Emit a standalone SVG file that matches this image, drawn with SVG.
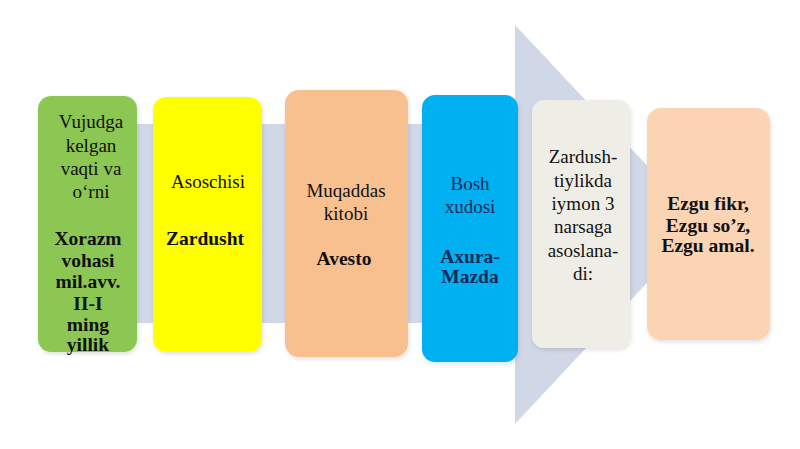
<svg xmlns="http://www.w3.org/2000/svg" width="800" height="449" viewBox="0 0 800 449">
<defs>
<style>
.reg{font-family:"Liberation Serif","Times New Roman",serif;font-size:19px;fill:#111;text-anchor:middle}
.b{font-family:"Liberation Serif","Times New Roman",serif;font-size:19.5px;font-weight:bold;fill:#111;text-anchor:middle}
.box{filter:url(#sh)}
</style>
<filter id="sh" x="-10%" y="-10%" width="125%" height="125%">
<feDropShadow dx="1" dy="2" stdDeviation="2" flood-color="#000" flood-opacity="0.12"/>
</filter>
</defs>
<rect width="800" height="449" fill="#ffffff"/>
<g id="connectors">
<path d="M120 124 H515 V25 L702 224 L515 424 V323 H120 Z" fill="#d0d7e6"/>
</g>
<g id="node1">
<rect class="box" x="38" y="96" width="99" height="256" rx="13" fill="#8cc653"/>
<text class="reg" x="91" y="128">Vujudga</text>
<text class="reg" x="91" y="152">kelgan</text>
<text class="reg" x="91" y="175">vaqti va</text>
<text class="reg" x="91" y="198">o‘rni</text>
<text class="b" x="88" y="245">Xorazm</text>
<text class="b" x="88" y="267">vohasi</text>
<text class="b" x="88" y="288">mil.avv.</text>
<text class="b" x="88" y="310">II-I</text>
<text class="b" x="88" y="331">ming</text>
<text class="b" x="88" y="351">yillik</text>
</g>
<g id="node2">
<rect class="box" x="153" y="97" width="109" height="255" rx="13" fill="#ffff00"/>
<text class="reg" x="208" y="188">Asoschisi</text>
<text class="b" x="205" y="245">Zardusht</text>
</g>
<g id="node3">
<rect class="box" x="285" y="90" width="123" height="267" rx="14" fill="#f9c08f"/>
<text class="reg" x="346" y="197">Muqaddas</text>
<text class="reg" x="346" y="220">kitobi</text>
<text class="b" x="344" y="265">Avesto</text>
</g>
<g id="node4">
<rect class="box" x="422" y="95" width="96" height="267" rx="13" fill="#00b0f0"/>
<text class="reg" x="470" y="190" style="fill:#142a5c">Bosh</text>
<text class="reg" x="470" y="213" style="fill:#142a5c">xudosi</text>
<text class="b" x="470" y="263" style="fill:#142a5c">Axura-</text>
<text class="b" x="470" y="283" style="fill:#142a5c">Mazda</text>
</g>
<g id="node5">
<rect class="box" x="532" y="100" width="98" height="248" rx="12" fill="#efeee6"/>
<text class="reg" x="583" y="163">Zardush-</text>
<text class="reg" x="583" y="187">tiylikda</text>
<text class="reg" x="583" y="210">iymon 3</text>
<text class="reg" x="583" y="233">narsaga</text>
<text class="reg" x="583" y="257">asoslana-</text>
<text class="reg" x="583" y="280">di:</text>
</g>
<g id="node6">
<rect class="box" x="647" y="108" width="123" height="232" rx="14" fill="#fbd4b4"/>
<text class="b" x="708" y="210">Ezgu fikr,</text>
<text class="b" x="708" y="232">Ezgu so’z,</text>
<text class="b" x="708" y="252">Ezgu amal.</text>
</g>
</svg>
